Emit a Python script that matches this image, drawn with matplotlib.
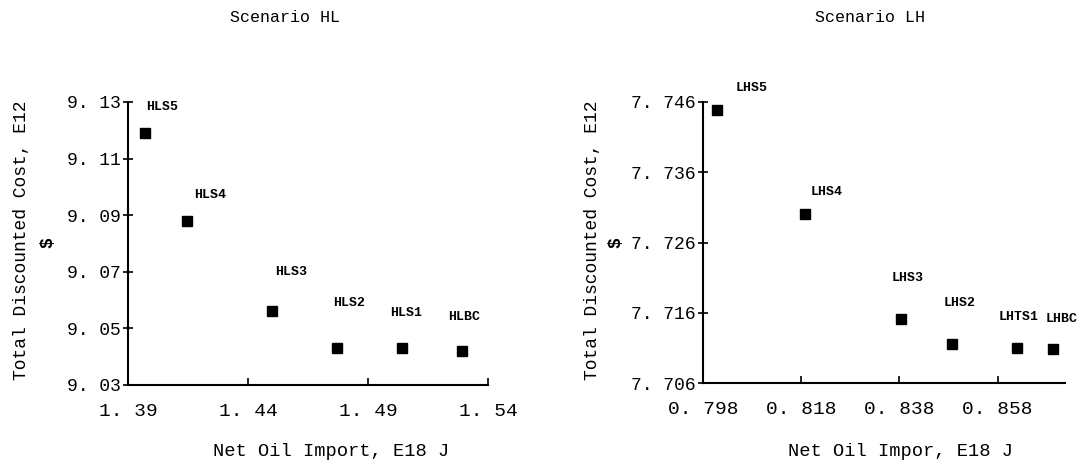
import matplotlib

matplotlib.use("Agg")
import matplotlib.pyplot as plt

plt.rcParams["font.family"] = ["Liberation Mono", "DejaVu Sans Mono"]

W, H = 1092, 468

# Scenario HL
hl_names = ["HLS5", "HLS4", "HLS3", "HLS2", "HLS1", "HLBC"]
hl_import = [1.397, 1.4146, 1.450, 1.477, 1.504, 1.529]
hl_cost = [9.119, 9.088, 9.056, 9.043, 9.043, 9.042]
hl_xticks = [1.39, 1.44, 1.49, 1.54]
hl_xlabels = ["1. 39", "1. 44", "1. 49", "1. 54"]
hl_yticks = [9.03, 9.05, 9.07, 9.09, 9.11, 9.13]
hl_ylabels = ["9. 03", "9. 05", "9. 07", "9. 09", "9. 11", "9. 13"]

# Scenario LH
lh_names = ["LHS5", "LHS4", "LHS3", "LHS2", "LHTS1", "LHBC"]
lh_import = [0.8008, 0.8188, 0.8384, 0.8487, 0.8620, 0.8693]
lh_cost = [7.7449, 7.7301, 7.7151, 7.7116, 7.7110, 7.7109]
lh_xticks = [0.798, 0.818, 0.838, 0.858]
lh_xlabels = ["0. 798", "0. 818", "0. 838", "0. 858"]
lh_yticks = [7.706, 7.716, 7.726, 7.736, 7.746]
lh_ylabels = ["7. 706", "7. 716", "7. 726", "7. 736", "7. 746"]

# label offsets from each point, in pixels (dx, dy up)
hl_offsets = [(1, 26), (7, 26), (3, 39), (-4, 45), (-11, 35), (-13, 34)]
lh_offsets = [(19, 22), (5, 22), (-10, 41), (-8, 41), (-19, 31), (-8, 30)]


def box(left, top, right, bottom):
    return [left / W, 1 - bottom / H, (right - left) / W, (bottom - top) / H]


def panel(ax, xs, ys, names, offsets, xticks, xlabels, yticks, ylabels):
    ax.plot(xs, ys, "s", color="black", markersize=7, linestyle="none")
    for x, y, name, (dx, dy) in zip(xs, ys, names, offsets):
        ax.annotate(name, (x, y), xytext=(dx, dy), textcoords="offset pixels",
                    fontsize=9.5, fontweight="bold", ha="left", va="center")
    ax.set_xticks(xticks, xlabels, fontsize=14)
    ax.set_yticks(yticks, ylabels, fontsize=13)
    ax.spines["top"].set_visible(False)
    ax.spines["right"].set_visible(False)
    for s in ("left", "bottom"):
        ax.spines[s].set_linewidth(1.5)
    ax.tick_params(axis="x", direction="in", length=5, width=1.2, pad=13)
    ax.tick_params(axis="y", direction="inout", length=7, width=1.2, pad=2)


fig = plt.figure(figsize=(W / 100, H / 100), dpi=100)

ax1 = fig.add_axes(box(128, 102, 488, 385))
panel(ax1, hl_import, hl_cost, hl_names, hl_offsets,
      hl_xticks, hl_xlabels, hl_yticks, hl_ylabels)
ax1.set_xlim(1.39, 1.54)
ax1.set_ylim(9.03, 9.13)

ax2 = fig.add_axes(box(703, 102, 1065, 383))
panel(ax2, lh_import, lh_cost, lh_names, lh_offsets,
      lh_xticks, lh_xlabels, lh_yticks, lh_ylabels)
ax2.set_xlim(0.798, 0.8717)
ax2.set_ylim(7.706, 7.746)

# titles and axis labels
fig.text(285 / W, 1 - 18 / H, "Scenario HL", fontsize=12, ha="center", va="center")
fig.text(870 / W, 1 - 18 / H, "Scenario LH", fontsize=12, ha="center", va="center")

fig.text(331 / W, 1 - 452 / H, "Net Oil Import, E18 J", fontsize=13.5,
         ha="center", va="center")
fig.text(900 / W, 1 - 452 / H, "Net Oil Impor, E18 J", fontsize=13.5,
         ha="center", va="center")

for x_lab, x_dol in ((22, 48), (592, 616)):
    fig.text(x_lab / W, 1 - 240 / H, "Total Discounted Cost, E12", fontsize=13,
             rotation=90, ha="center", va="center")
    fig.text(x_dol / W, 1 - 243 / H, "$", fontsize=13, fontweight="bold",
             rotation=90, ha="center", va="center")

fig.savefig("out.png", dpi=100)
